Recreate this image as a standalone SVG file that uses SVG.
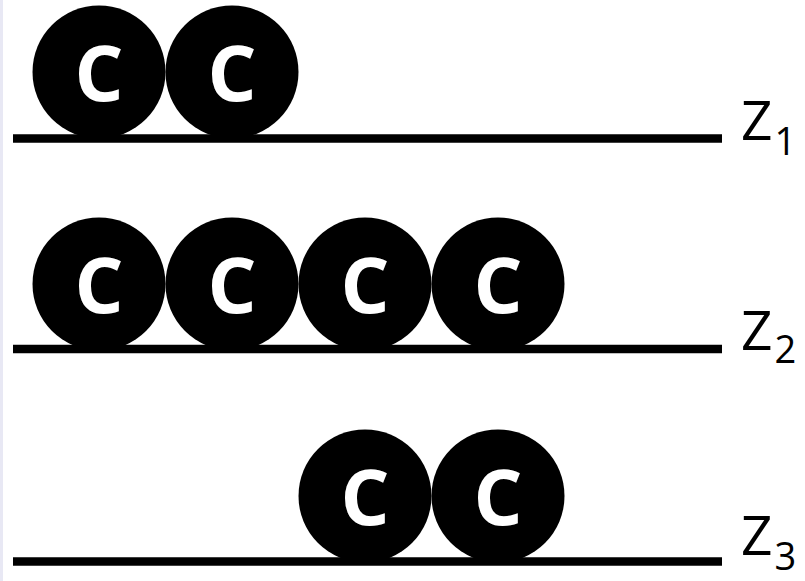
<svg xmlns="http://www.w3.org/2000/svg" width="805" height="581" viewBox="0 0 805 581">
<style>
.ball{fill:#000}
.c{font-family:"Open Sans","Liberation Sans",sans-serif;font-weight:bold;font-size:77px;fill:#fff;text-anchor:middle}
.base{stroke:#000;stroke-width:8.5;fill:none}
.lbl{font-family:"Open Sans","Liberation Sans",sans-serif;font-size:55px;fill:#000}
.sub{font-size:38px}
</style>
<rect width="805" height="581" fill="#fff"/>
<rect x="0" y="0" width="3" height="581" fill="#e8e8f4"/>
<g id="connectors">
<line class="base" x1="13" y1="138.5" x2="722" y2="138.5"/>
<line class="base" x1="13" y1="349" x2="722" y2="349"/>
<line class="base" x1="13" y1="561.5" x2="722" y2="561.5"/>
</g>
<g id="row1-c1"><circle class="ball" cx="99" cy="72" r="66.5"/><text class="c" x="99" y="101">C</text></g>
<g id="row1-c2"><circle class="ball" cx="232" cy="72" r="66.5"/><text class="c" x="232" y="101">C</text></g>
<g id="row2-c1"><circle class="ball" cx="99" cy="284" r="66.5"/><text class="c" x="99" y="313">C</text></g>
<g id="row2-c2"><circle class="ball" cx="232" cy="284" r="66.5"/><text class="c" x="232" y="313">C</text></g>
<g id="row2-c3"><circle class="ball" cx="365" cy="284" r="66.5"/><text class="c" x="365" y="313">C</text></g>
<g id="row2-c4"><circle class="ball" cx="498" cy="284" r="66.5"/><text class="c" x="498" y="313">C</text></g>
<g id="row3-c1"><circle class="ball" cx="365" cy="496" r="66.5"/><text class="c" x="365" y="525">C</text></g>
<g id="row3-c2"><circle class="ball" cx="498" cy="496" r="66.5"/><text class="c" x="498" y="525">C</text></g>
<g id="label-z1"><text class="lbl" x="741" y="140">Z<tspan class="sub" dx="2" dy="15">1</tspan></text></g>
<g id="label-z2"><text class="lbl" x="741" y="350">Z<tspan class="sub" dx="2" dy="13">2</tspan></text></g>
<g id="label-z3"><text class="lbl" x="741" y="555">Z<tspan class="sub" dx="2" dy="15">3</tspan></text></g>
</svg>
